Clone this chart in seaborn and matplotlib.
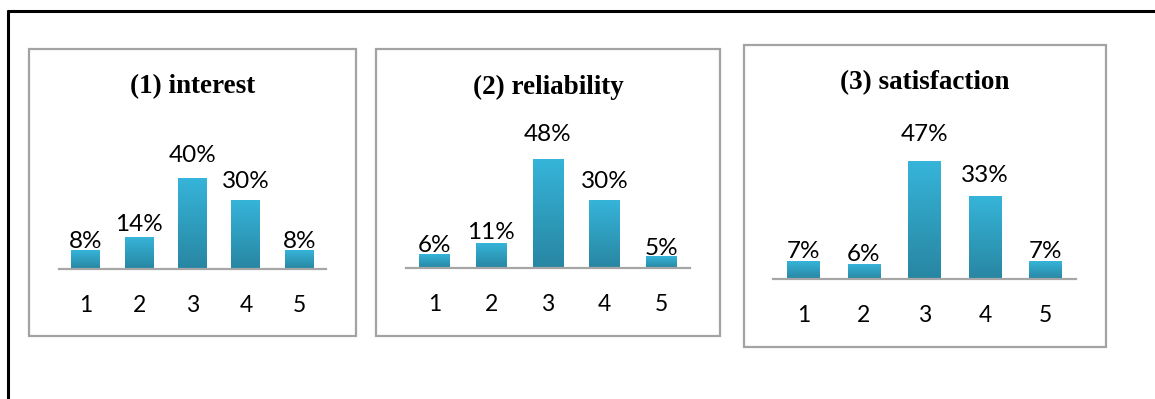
import matplotlib
matplotlib.use("Agg")
import matplotlib.pyplot as plt
import numpy as np
import pandas as pd
import seaborn as sns
from matplotlib.colors import LinearSegmentedColormap
from matplotlib.patches import Rectangle
from matplotlib.lines import Line2D

# data (percent)
categories = ["1", "2", "3", "4", "5"]
interest = [8, 14, 40, 30, 8]
reliability = [6, 11, 48, 30, 5]
satisfaction = [7, 6, 47, 33, 7]
titles = ["(1) interest", "(2) reliability", "(3) satisfaction"]

W, H = 1155, 399

# panel geometry in pixels: box (x0, y0, x1, y1), axis line x0, x1, baseline y, px per percent
boxes = [(29, 49, 356, 336), (376, 49, 720, 336), (744, 45, 1106, 347)]
axis_spans = [(59, 326, 269, 2.275), (406, 690, 268, 2.25), (773, 1076, 279, 2.49)]
title_y = [87, 87, 83]
YMAX = 60

sns.set_theme(style="white")
plt.rcParams["font.family"] = ["Lato", "DejaVu Sans"]
plt.rcParams["text.color"] = "black"

fig = plt.figure(figsize=(W / 100, H / 100), dpi=100)
fig.patch.set_facecolor("white")

# outer black frame (top and left)
fig.add_artist(Line2D([8 / W, 1], [1 - 11 / H, 1 - 11 / H], color="black", lw=2.2))
fig.add_artist(Line2D([8 / W, 8 / W], [0, 1 - 11 / H], color="black", lw=2.2))

grad_cmap = LinearSegmentedColormap.from_list("bar", ["#2886A2", "#36B4D9"])
grad = np.linspace(0, 1, 100).reshape(-1, 1)

for values, title, box, span, ty in zip([interest, reliability, satisfaction], titles,
                                         boxes, axis_spans, title_y):
    x0, y0, x1, y1 = box
    fig.add_artist(Rectangle((x0 / W, 1 - y1 / H), (x1 - x0) / W, (y1 - y0) / H,
                             transform=fig.transFigure, fill=False,
                             edgecolor="#A3A3A3", lw=1.6))
    fig.text((x0 + x1) / 2 / W, 1 - ty / H, title, ha="center", va="center",
             family="Liberation Serif", fontweight="bold", fontsize=19.5, color="black")

    ax_x0, ax_x1, base, scale = span
    top = base - YMAX * scale
    ax = fig.add_axes([ax_x0 / W, 1 - base / H, (ax_x1 - ax_x0) / W, (base - top) / H])
    df = pd.DataFrame({"cat": categories, "val": values})
    sns.barplot(data=df, x="cat", y="val", color="#36B4D9", width=0.54, ax=ax)

    for p in ax.patches:
        bx, bw, bh = p.get_x(), p.get_width(), p.get_height()
        p.set_facecolor("none")
        p.set_edgecolor("none")
        ax.imshow(grad, extent=[bx, bx + bw, 0, bh], origin="lower", aspect="auto",
                  cmap=grad_cmap, zorder=2)

    for i, v in enumerate(values):
        ax.text(i, v * 1.18, f"{v}%", ha="center", va="baseline", fontsize=17.5,
                color="black", zorder=3)

    ax.set_xlim(-0.5, 4.5)
    ax.set_ylim(0, YMAX)
    ax.set_xlabel("")
    ax.set_ylabel("")
    ax.set_yticks([])
    ax.tick_params(axis="x", length=0, pad=19, labelsize=16.5, colors="black")
    for s in ["top", "left", "right"]:
        ax.spines[s].set_visible(False)
    ax.spines["bottom"].set_color("#A6A6A6")
    ax.spines["bottom"].set_linewidth(1.6)
    ax.spines["bottom"].set_zorder(4)
    ax.patch.set_alpha(0)

fig.savefig("out.png", dpi=100)
